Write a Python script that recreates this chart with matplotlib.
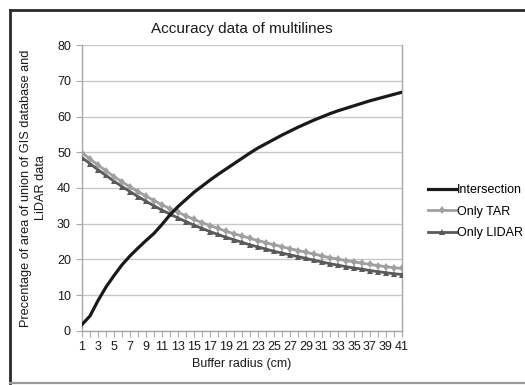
import matplotlib
matplotlib.use("Agg")
import matplotlib.pyplot as plt
from matplotlib.lines import Line2D

plt.rcParams['font.family'] = ['Liberation Sans', 'DejaVu Sans']

radius = list(range(1, 42))

intersection = [1.8, 4.2, 8.5, 12.3, 15.5, 18.5, 21.0, 23.2, 25.3, 27.3,
                29.8, 32.5, 34.8, 36.8, 38.8, 40.5, 42.2, 43.8, 45.3, 46.8,
                48.3, 49.8, 51.2, 52.4, 53.6, 54.8, 55.9, 57.0, 58.0, 59.0,
                59.9, 60.8, 61.6, 62.3, 63.0, 63.7, 64.4, 65.0, 65.6, 66.2,
                66.8]

only_tar = [49.9, 48.1, 46.4, 44.8, 43.2, 41.7, 40.3, 39.0, 37.7, 36.5,
            35.3, 34.2, 33.2, 32.2, 31.2, 30.3, 29.5, 28.7, 27.9, 27.2,
            26.6, 25.9, 25.3, 24.7, 24.1, 23.6, 23.0, 22.5, 22.0, 21.5,
            21.0, 20.5, 20.1, 19.7, 19.3, 19.0, 18.6, 18.3, 18.0, 17.7,
            17.5]

only_lidar = [48.5, 46.8, 45.1, 43.5, 41.9, 40.4, 39.0, 37.6, 36.3, 35.0,
              33.8, 32.7, 31.6, 30.6, 29.6, 28.7, 27.8, 27.0, 26.2, 25.5,
              24.8, 24.1, 23.5, 22.9, 22.3, 21.8, 21.3, 20.8, 20.3, 19.8,
              19.3, 18.8, 18.4, 18.0, 17.6, 17.3, 16.9, 16.6, 16.3, 16.0,
              15.8]

y_ticks = [0, 10, 20, 30, 40, 50, 60, 70, 80]
x_labels = [str(r) if r % 2 == 1 else "" for r in radius]

fig = plt.figure(figsize=(5.25, 3.85), dpi=100)
ax = fig.add_axes([0.1562, 0.1403, 0.6095, 0.7428])

ax.plot(radius, intersection, color='#1a1a1a', lw=2.3, label='Intersection', zorder=5)
ax.plot(radius, only_tar, color='#a0a0a0', lw=2.0, marker='d', ms=4.5,
        markeredgewidth=0, label='Only TAR', zorder=4)
ax.plot(radius, only_lidar, color='#5a5a5a', lw=2.0, marker='^', ms=4.5,
        markeredgewidth=0, label='Only LIDAR', zorder=3)

ax.set_xlim(1, 41)
ax.set_ylim(0, 80)
ax.set_yticks(y_ticks)
ax.set_xticks(radius)
ax.set_xticklabels(x_labels)
ax.yaxis.grid(True, color='#c8c8c8', lw=1.0)
ax.set_axisbelow(True)

ax.spines['top'].set_visible(False)
for side in ['left', 'bottom', 'right']:
    ax.spines[side].set_color('#a8a8a8')
    ax.spines[side].set_linewidth(1.0)

ax.tick_params(axis='both', colors='#a8a8a8', labelcolor='#1a1a1a',
               labelsize=9, length=4, width=0.8)
ax.tick_params(axis='x', pad=3)
ax.tick_params(axis='y', pad=4)

ax.set_title('Accuracy data of multilines', fontsize=11, color='#1a1a1a', pad=9)
ax.set_xlabel('Buffer radius (cm)', fontsize=9, color='#1a1a1a', labelpad=4)
ax.set_ylabel('Precentage of area of union of GIS database and\nLiDAR data',
              fontsize=9.2, color='#1a1a1a', labelpad=7, linespacing=1.4)

leg = fig.legend(loc='center left', bbox_to_anchor=(428/525, 0.45), frameon=False,
                 fontsize=9, handlelength=2.2, handletextpad=0.15,
                 labelspacing=0.75, borderpad=0, borderaxespad=0)

# chart frame
fig.add_artist(Line2D([10/525, 10/525], [1-10/385, 1-383/385], color='#2a2a2a', lw=2.0))
fig.add_artist(Line2D([10/525, 1.0], [1-10/385, 1-10/385], color='#2a2a2a', lw=2.0))
fig.add_artist(Line2D([10/525, 1.0], [1-383/385, 1-383/385], color='#9a9a9a', lw=1.6))

fig.savefig('out.png', dpi=100)
